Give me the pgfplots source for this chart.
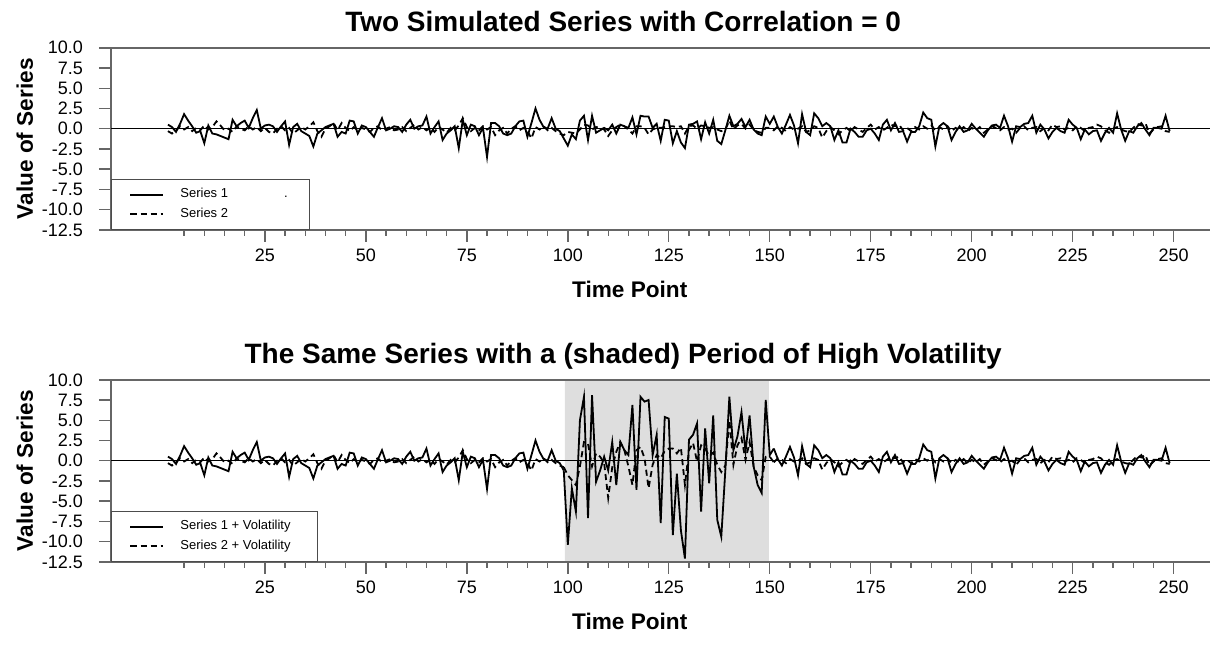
\documentclass[border=0pt]{standalone}
\usepackage{fontspec}
\setmainfont{Liberation Sans}
\usepackage{pgfplots}
\usepackage{pgfplotstable}
\pgfplotsset{compat=1.18}

% two simulated series
\pgfplotstableread{
t s1 s2
1 0.5 -0.3
2 0.2 -0.6
3 -0.4 -0.2
4 0.6 0.3
5 1.8 -0.1
6 1.0 0.2
7 0.3 -0.3
8 -0.5 0.1
9 -0.3 -0.2
10 -1.8 0.4
11 0.4 -0.1
12 -0.6 0.2
13 -0.7 0.9
14 -0.9 0.4
15 -1.1 -0.2
16 -1.3 0.0
17 1.1 -0.4
18 0.3 0.3
19 0.7 0.0
20 1.0 -0.2
21 0.1 0.3
22 1.3 -0.1
23 2.3 0.2
24 0.0 -0.3
25 0.4 0.1
26 0.5 -0.4
27 0.3 -0.6
28 -0.4 0.0
29 0.3 0.3
30 0.9 -0.2
31 -2.0 0.1
32 0.2 -0.6
33 0.6 -0.2
34 -0.3 0.2
35 -0.6 -0.1
36 -0.9 0.3
37 -2.2 0.8
38 -0.6 -0.3
39 -0.2 -1.0
40 0.2 0.0
41 0.4 0.3
42 0.6 0.7
43 -1.0 -0.2
44 -0.4 0.7
45 -0.6 0.1
46 1.0 -0.3
47 0.9 0.2
48 -0.6 -0.2
49 0.4 0.1
50 0.2 -0.1
51 -0.4 -0.4
52 -1.0 0.1
53 0.2 0.3
54 1.3 -0.2
55 -0.2 0.0
56 0.0 0.2
57 0.3 -0.2
58 0.2 -0.1
59 -0.4 0.2
60 0.5 -0.3
61 1.1 0.1
62 0.0 0.5
63 0.3 -0.1
64 0.4 0.2
65 1.5 -0.2
66 -0.6 0.1
67 0.2 -0.4
68 0.9 0.2
69 -1.4 -0.1
70 -0.6 -0.5
71 -0.2 0.1
72 0.3 -0.2
73 -2.4 0.4
74 1.1 1.3
75 -0.8 0.2
76 0.5 -0.3
77 0.3 0.1
78 -0.8 -0.2
79 0.1 0.3
80 -3.5 -0.1
81 0.7 0.2
82 0.7 -0.8
83 0.3 -0.2
84 -0.6 0.1
85 -0.8 -0.6
86 -0.6 0.0
87 0.3 0.3
88 0.9 -0.2
89 1.0 0.1
90 -1.0 -0.3
91 0.7 -1.2
92 2.5 0.2
93 1.1 -0.1
94 0.2 0.3
95 0.0 -0.2
96 1.3 0.1
97 0.0 -0.3
98 -0.3 -0.6
99 -1.2 -0.8
100 -2.1 -0.4
101 -0.7 -0.5
102 -1.3 -0.6
103 1.0 -0.1
104 1.6 0.5
105 -1.4 0.4
106 1.6 -0.1
107 -0.5 0.2
108 -0.2 0.1
109 0.1 -0.1
110 -0.2 -0.9
111 0.5 -0.2
112 -0.6 0.2
113 0.5 0.5
114 0.3 0.3
115 0.1 -0.1
116 1.4 -0.6
117 -0.7 0.3
118 1.6 0.3
119 1.5 0.1
120 1.5 -0.7
121 0.1 -0.1
122 0.6 0.1
123 -1.5 0.1
124 1.1 0.2
125 1.0 0.3
126 -1.8 0.3
127 -0.3 0.2
128 -1.7 0.3
129 -2.4 -0.6
130 0.5 0.3
131 0.6 0.4
132 0.9 0.0
133 -1.3 0.4
134 0.8 0.3
135 -0.6 0.1
136 1.1 0.2
137 -1.5 -0.1
138 -1.9 -0.3
139 -0.2 -0.1
140 1.6 1.0
141 0.3 -0.1
142 0.6 0.4
143 1.2 0.6
144 0.2 0.0
145 1.1 0.5
146 -0.1 -0.1
147 -0.6 -0.4
148 -0.8 -0.5
149 1.5 0.1
150 0.6 0.1
151 1.5 -0.2
152 0.2 0.3
153 -0.6 0.1
154 0.5 -0.3
155 1.7 0.2
156 0.4 -0.1
157 -1.8 0.0
158 1.8 0.3
159 -0.4 -0.4
160 -0.8 -0.2
161 1.9 0.3
162 1.3 0.1
163 0.3 -1.1
164 0.7 -0.3
165 0.3 0.2
166 -1.4 -0.2
167 -0.2 -0.7
168 -1.7 -0.2
169 -1.7 0.1
170 0.0 -0.3
171 -0.4 0.2
172 -1.0 -0.1
173 -1.0 -0.4
174 -0.2 0.1
175 0.0 0.5
176 -0.6 -0.1
177 -1.4 0.2
178 0.5 -0.2
179 1.1 0.1
180 -0.2 0.5
181 0.7 0.3
182 -0.4 0.5
183 -0.3 -0.2
184 -1.6 0.1
185 -0.4 -0.3
186 -0.4 0.2
187 0.3 -0.1
188 2.0 0.3
189 1.3 0.0
190 1.1 0.4
191 -2.2 -0.2
192 0.3 0.2
193 0.7 -0.1
194 0.3 0.3
195 -1.4 -0.3
196 -0.4 0.1
197 0.3 -0.2
198 -0.4 0.2
199 -0.2 -0.3
200 0.6 0.1
201 0.0 -0.2
202 -0.5 0.2
203 -1.0 -0.5
204 -0.2 -0.1
205 0.4 0.3
206 0.5 0.1
207 0.1 -0.2
208 1.6 0.2
209 0.3 -0.1
210 -1.6 0.0
211 0.3 -0.5
212 0.2 0.1
213 0.6 0.3
214 0.7 -0.2
215 1.6 0.1
216 -0.5 0.2
217 0.5 -0.3
218 -0.1 0.1
219 -1.2 -0.2
220 -0.4 0.5
221 0.1 0.2
222 -0.3 0.3
223 -0.5 -0.1
224 1.1 0.1
225 0.5 -0.2
226 0.1 0.3
227 -1.3 0.1
228 -0.1 -0.3
229 -0.7 0.1
230 -0.3 0.2
231 -0.2 0.5
232 -1.5 0.3
233 -0.5 -0.2
234 0.1 -0.5
235 -0.5 0.0
236 1.9 0.2
237 -0.1 -0.1
238 -1.5 -0.3
239 -0.3 -0.4
240 -0.5 0.1
241 0.3 0.6
242 0.7 0.4
243 -0.1 0.7
244 -0.8 -0.6
245 0.1 -0.1
246 0.1 0.2
247 0.0 0.3
248 1.6 -0.3
249 -0.3 -0.4
}\seriesdata

% the high-volatility stretch of the lower panel
\pgfplotstableread{
t v1 v2
99 -1.2 -0.8
100 -10.4 -1.8
101 -3.4 -2.4
102 -6.3 -3.0
103 5.0 -0.7
104 7.9 2.3
105 -7.1 2.1
106 8.1 -0.7
107 -2.6 0.9
108 -1.2 0.5
109 0.5 -0.3
110 -1.2 -4.6
111 2.3 -0.8
112 -3.0 1.1
113 2.3 2.3
114 1.3 1.3
115 0.7 -0.7
116 6.9 -3.0
117 -3.6 1.3
118 7.9 1.7
119 7.3 0.3
120 7.5 -3.4
121 0.7 -0.5
122 3.2 0.7
123 -7.7 0.3
124 5.4 1.2
125 5.2 1.5
126 -9.2 1.5
127 -1.6 0.9
128 -8.6 1.6
129 -12.1 -3.0
130 2.6 1.3
131 3.2 2.2
132 4.6 -0.1
133 -6.3 1.9
134 4.0 1.5
135 -2.8 0.6
136 5.6 1.0
137 -7.3 -0.5
138 -9.4 -1.4
139 -1.2 -0.6
140 7.9 5.0
141 1.3 -0.5
142 3.0 1.9
143 6.0 2.8
144 1.1 0.1
145 5.6 2.3
146 -0.7 -0.7
147 -3.0 -1.8
148 -4.0 -2.4
149 7.5 0.5
150 0.7 0.5
151 1.5 -0.2
}\voldata

\pgfplotsset{
  panel/.style={
    scale only axis, width=549.5pt, height=91pt,
    xmin=-13.1, xmax=259, ymin=-12.5, ymax=10,
    axis x line*=box, axis y line*=left,
    axis line style={draw=black!60, line width=0.9pt},
    tick style={draw=black!60, line width=0.7pt},
    tick align=outside, xtick pos=left, ytick pos=left,
    major tick length=6pt, minor tick length=3pt,
    xtick={25,50,...,250},
    xticklabels={25,50,75,100,125,150,175,200,225,250},
    minor xtick={5,10,...,245},
    ytick={-12.5,-10,-7.5,-5,-2.5,0,2.5,5,7.5,10},
    yticklabels={-12.5,-10.0,-7.5,-5.0,-2.5,0.0,2.5,5.0,7.5,10.0},
    ticklabel style={font=\fontsize{9}{10}\selectfont},
    yticklabel style={xshift=-4.5pt},
    extra y ticks={0}, extra y tick labels={},
    extra y tick style={grid=major, major grid style={black, line width=0.7pt}, major tick length=0pt},
    axis on top,
    xlabel={Time Point}, ylabel={Value of Series},
    label style={font=\bfseries\fontsize{11.3}{13}\selectfont},
    xlabel style={at={(axis description cs:0.472,0)}, anchor=base, yshift=-34pt},
    ylabel style={at={(axis description cs:-0.071,0.5)}, anchor=base},
    title style={font=\bfseries\fontsize{14}{16}\selectfont, at={(axis description cs:0.466,1)}, anchor=base, yshift=2pt},
    legend style={at={(0,0)}, anchor=south west, draw=black!70, line width=0.6pt,
      fill=white, font=\fontsize{6.5}{7.5}\selectfont, inner xsep=9pt, inner ysep=3.5pt,
      row sep=1.4pt, nodes={inner sep=1pt}},
    legend cell align=left,
    legend image code/.code={\draw[#1] (0pt,0pt) -- (16pt,0pt);},
    s1/.style={black, line width=0.9pt},
    s2/.style={black, line width=0.9pt, dash pattern=on 3pt off 2pt},
  }
}

\begin{document}
\begin{tikzpicture}
\useasboundingbox (0,0) rectangle (612.5pt,-332pt);

\begin{axis}[panel, at={(55.5pt,-23.9pt)}, anchor=north west,
  title={Two Simulated Series with Correlation = 0}]
  \addplot [s1] table [x=t, y=s1] {\seriesdata};
  \addlegendentry{\makebox[62pt][l]{\hspace*{7.5pt}Series 1\hspace{28pt}.}}
  \addplot [s2] table [x=t, y=s2] {\seriesdata};
  \addlegendentry{\makebox[62pt][l]{\hspace*{7.5pt}Series 2}}
\end{axis}

\begin{axis}[panel, at={(55.5pt,-189.9pt)}, anchor=north west,
  title={The Same Series with a (shaded) Period of High Volatility}]
  \addplot [draw=none, fill=black!13, forget plot]
    coordinates {(99.3,-12.5) (99.3,10) (149.8,10) (149.8,-12.5) (99.3,-12.5)};
  \addplot [s1, restrict x to domain=1:99] table [x=t, y=s1] {\seriesdata};
  \addlegendentry{\makebox[66pt][l]{\hspace*{7.5pt}Series 1 + Volatility}}
  \addplot [s2, restrict x to domain=1:99] table [x=t, y=s2] {\seriesdata};
  \addlegendentry{\makebox[66pt][l]{\hspace*{7.5pt}Series 2 + Volatility}}
  \addplot [s1, forget plot] table [x=t, y=v1] {\voldata};
  \addplot [s2, forget plot] table [x=t, y=v2] {\voldata};
  \addplot [s1, forget plot, restrict x to domain=151:249] table [x=t, y=s1] {\seriesdata};
  \addplot [s2, forget plot, restrict x to domain=151:249] table [x=t, y=s2] {\seriesdata};
\end{axis}
\end{tikzpicture}
\end{document}
